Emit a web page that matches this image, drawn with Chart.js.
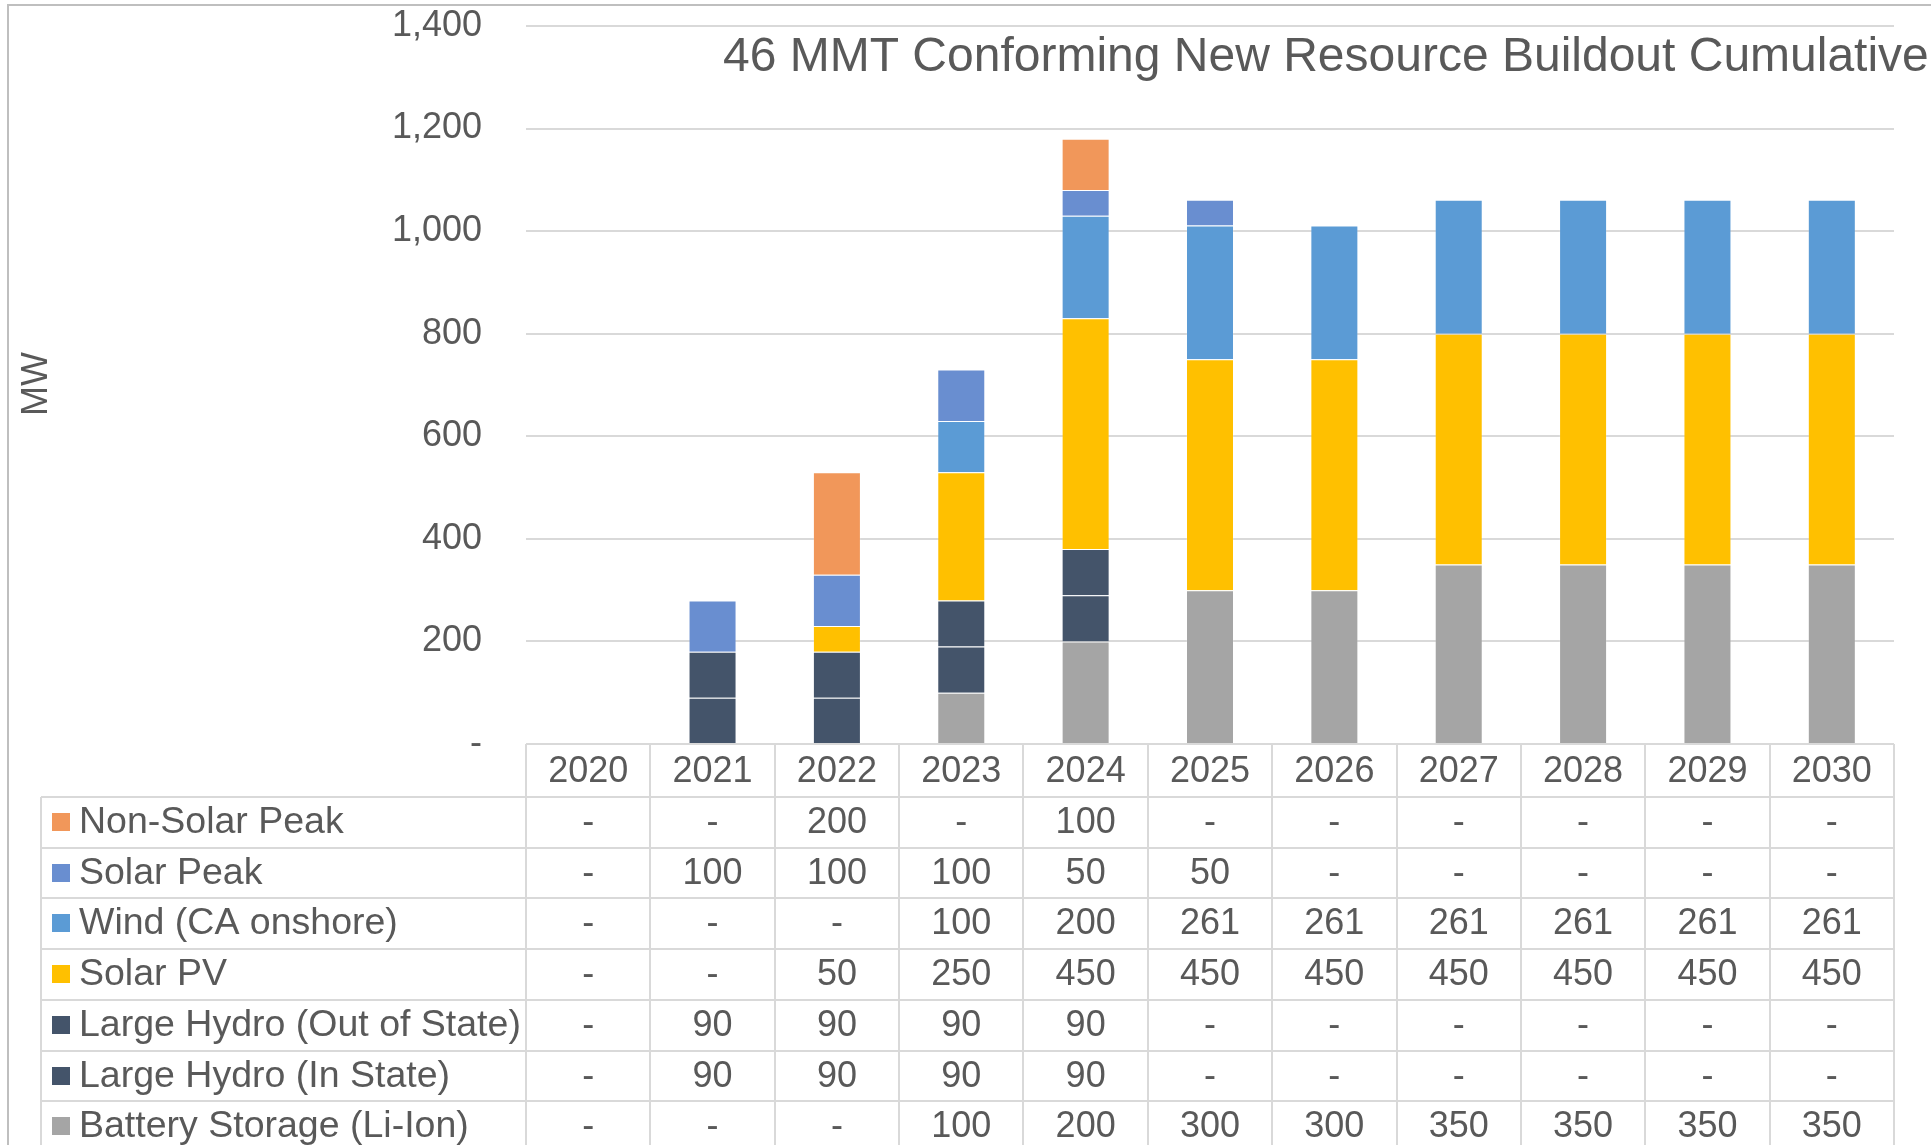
<!DOCTYPE html>
<html>
<head>
<meta charset="utf-8">
<title>46 MMT Conforming New Resource Buildout Cumulative</title>
<script src="https://cdn.jsdelivr.net/npm/chart.js@4.4.1/dist/chart.umd.min.js"></script>
<style>
    html, body { margin: 0; padding: 0; background: #fff; }
    canvas { display: block; }
</style>
</head>
<body>
<canvas id="buildoutChart" width="1931" height="1145"></canvas>
<script>
// Chart data (MW, cumulative)
const years = ['2020', '2021', '2022', '2023', '2024', '2025', '2026', '2027', '2028', '2029', '2030'];
const batteryStorage = [0, 0, 0, 100, 200, 300, 300, 350, 350, 350, 350];
const hydroInState = [0, 90, 90, 90, 90, 0, 0, 0, 0, 0, 0];
const hydroOutOfState = [0, 90, 90, 90, 90, 0, 0, 0, 0, 0, 0];
const solarPV = [0, 0, 50, 250, 450, 450, 450, 450, 450, 450, 450];
const windOnshore = [0, 0, 0, 100, 200, 261, 261, 261, 261, 261, 261];
const solarPeak = [0, 100, 100, 100, 50, 50, 0, 0, 0, 0, 0];
const nonSolarPeak = [0, 0, 200, 0, 100, 0, 0, 0, 0, 0, 0];

// Y axis ticks
const yMin = 0;
const yMax = 1400;
const yStep = 200;

const chartTitle = '46 MMT Conforming New Resource Buildout Cumulative';
const yAxisTitle = 'MW';

const FONT = "'Liberation Sans', Arial, sans-serif";
const TEXT_COLOR = '#595959';
const LINE_COLOR = '#D9D9D9';

// Series in stacking order (bottom first)
const series = [
    { label: 'Battery Storage (Li-Ion)', values: batteryStorage, color: '#A5A5A5' },
    { label: 'Large Hydro (In State)', values: hydroInState, color: '#44546A' },
    { label: 'Large Hydro (Out of State)', values: hydroOutOfState, color: '#44546A' },
    { label: 'Solar PV', values: solarPV, color: '#FFC000' },
    { label: 'Wind (CA onshore)', values: windOnshore, color: '#5B9BD5' },
    { label: 'Solar Peak', values: solarPeak, color: '#698ED0' },
    { label: 'Non-Solar Peak', values: nonSolarPeak, color: '#F1975A' }
];

// Title, y axis title, outer frame and the data table under the plot
const tablePlugin = {
    id: 'dataTable',
    afterDraw(chart) {
        const ctx = chart.ctx;
        const area = chart.chartArea;
        const W = chart.width;
        const H = chart.height;
        const colW = (area.right - area.left) / years.length;
        const tableLeft = 41;
        const headerTop = area.bottom;
        const headerH = 53;
        const rowH = 50.7;
        const rows = series.slice().reverse();

        ctx.save();

        // outer frame
        ctx.strokeStyle = '#BFBFBF';
        ctx.lineWidth = 2;
        ctx.beginPath();
        ctx.moveTo(8, H);
        ctx.lineTo(8, 5);
        ctx.lineTo(W, 5);
        ctx.stroke();

        // title
        ctx.fillStyle = TEXT_COLOR;
        ctx.font = '48px ' + FONT;
        ctx.textAlign = 'left';
        ctx.textBaseline = 'alphabetic';
        ctx.fillText(chartTitle, 723, 71);

        // y axis title
        ctx.save();
        ctx.translate(47, 384);
        ctx.rotate(-Math.PI / 2);
        ctx.font = '36px ' + FONT;
        ctx.textAlign = 'center';
        ctx.fillText(yAxisTitle, 0, 0);
        ctx.restore();

        // table grid
        ctx.strokeStyle = LINE_COLOR;
        ctx.lineWidth = 2;
        ctx.beginPath();
        ctx.moveTo(area.left, headerTop);
        ctx.lineTo(area.right, headerTop);
        for (let r = 0; r <= rows.length; r++) {
            const y = Math.round(headerTop + headerH + r * rowH);
            ctx.moveTo(tableLeft, y);
            ctx.lineTo(area.right, y);
        }
        ctx.moveTo(tableLeft, headerTop + headerH);
        ctx.lineTo(tableLeft, H);
        for (let c = 0; c <= years.length; c++) {
            const x = Math.round(area.left + c * colW);
            ctx.moveTo(x, headerTop);
            ctx.lineTo(x, H);
        }
        ctx.stroke();

        // header years
        ctx.fillStyle = TEXT_COLOR;
        ctx.font = '36px ' + FONT;
        ctx.textAlign = 'center';
        years.forEach((yr, i) => {
            ctx.fillText(yr, chart.scales.x.getPixelForValue(i), headerTop + 38);
        });

        // rows
        rows.forEach((s, r) => {
            const top = headerTop + headerH + r * rowH;
            ctx.fillStyle = s.color;
            ctx.fillRect(52, Math.round(top + 16), 18, 18);
            ctx.fillStyle = TEXT_COLOR;
            ctx.textAlign = 'left';
            ctx.font = '37.5px ' + FONT;
            ctx.fillText(s.label, 79, top + 36);
            ctx.textAlign = 'center';
            ctx.font = '36px ' + FONT;
            s.values.forEach((v, i) => {
                const txt = v === 0 ? '-' : v.toLocaleString('en-US');
                ctx.fillText(txt, chart.scales.x.getPixelForValue(i), top + 36);
            });
        });

        ctx.restore();
    }
};

new Chart(document.getElementById('buildoutChart'), {
    type: 'bar',
    data: {
        labels: years,
        datasets: series.map(s => ({
            label: s.label,
            data: s.values.map(v => v || null),
            backgroundColor: s.color,
            borderColor: 'rgba(255,255,255,0.15)',
            borderWidth: 1,
            barPercentage: 0.386,
            categoryPercentage: 1
        }))
    },
    options: {
        responsive: false,
        devicePixelRatio: 1,
        animation: false,
        layout: { padding: { left: 0, right: 37, top: 26, bottom: 401 } },
        plugins: {
            legend: { display: false },
            title: { display: false },
            tooltip: { enabled: false }
        },
        scales: {
            x: {
                stacked: true,
                display: false
            },
            y: {
                stacked: true,
                min: yMin,
                max: yMax,
                border: { display: false },
                grid: { color: LINE_COLOR, lineWidth: 2, drawTicks: false },
                ticks: {
                    stepSize: yStep,
                    padding: 44,
                    color: TEXT_COLOR,
                    font: { family: FONT, size: 36 },
                    callback: v => v === 0 ? '-' : v.toLocaleString('en-US')
                },
                afterFit(scale) {
                    scale.width = 526;
                    scale.paddingTop = 0;
                    scale.paddingBottom = 0;
                }
            }
        }
    },
    plugins: [tablePlugin]
});
</script>
</body>
</html>
